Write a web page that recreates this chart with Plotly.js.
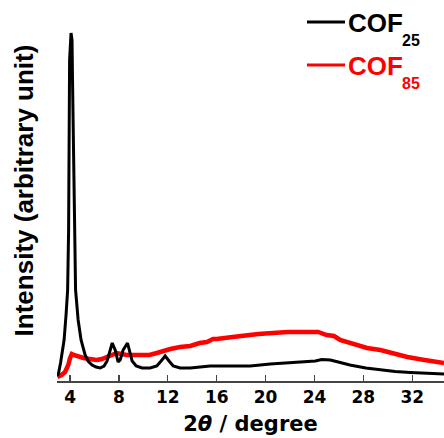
<!DOCTYPE html>
<html>
<head>
<meta charset="utf-8">
<script src="https://cdn.plot.ly/plotly-3.0.1.min.js"></script>
<style>html,body{margin:0;padding:0;background:#fff}#chart{width:444px;height:438px}</style>
</head>
<body>
<div id="chart"></div>
<script>
// 2theta (degree) and intensity (arbitrary unit)
var cof25X = [2.95,3.06,3.22,3.35,3.51,3.67,3.80,3.88,3.92,3.96,4.08,4.16,4.20,4.29,4.37,4.45,4.66,4.90,5.23,5.47,5.80,6.13,6.46,6.78,7.03,7.28,7.45,7.69,7.93,8.10,8.34,8.70,8.87,9.08,9.41,9.90,10.55,11.10,11.45,11.78,12.10,12.44,13.00,13.83,14.65,15.47,17.10,18.74,20.38,22.00,23.20,24.07,24.60,25.30,25.95,26.90,28.20,29.40,30.60,31.85,33.10,34.60];
var cof25Y = [5,8,18,29,41,66,91,151,241,321,348,341,301,231,151,91,61,41,26,20,16,14,13,15,20,31,38,31,19,21,31,38,31,20,15,13,13,15,20,25,20,15,13,13,14,15,15,15,17,18,19,20,21.5,21,19,16,13,11,9.5,8.5,7.5,7];
var cof85X = [2.96,3.30,3.59,3.85,4.00,4.14,4.30,4.55,4.80,5.09,5.60,6.19,6.60,7.00,7.40,7.82,8.20,8.64,9.20,10.00,10.50,11.10,11.60,12.20,13.00,13.83,14.60,15.20,15.70,16.00,17.30,18.50,19.40,20.60,21.80,23.40,24.30,25.00,25.60,26.10,26.60,27.50,28.30,29.40,30.50,31.60,33.00,34.60];
var cof85Y = [4,6,9,16,23,27,26,25,24,23,22,21,22,24,26,28,27,26,26,26,26,28,30,32,34,35,38,39,42,42,44,46,47,48,49,49,49,46,45,41,39,36,33,31,27,24,21,18];
var tickVals = [4,8,12,16,20,24,28,32];
var tickText = ['4','8','12','16','20','24','28','32'];
var names = ['COF', 'COF'];
var subs = ['25', '85'];
var colors = ['#000000', '#ff0000'];

var W = 444, H = 438, L = 57, B = 57;
var plotW = W - L, plotH = H - B;
function px(x){ return (x - L) / plotW; }
function py(y){ return (plotH - y) / plotH; }

var traces = [
  {x: cof85X, y: cof85Y, type: 'scatter', mode: 'lines', name: 'COF85',
   line: {color: colors[1], width: 4.5}, showlegend: false},
  {x: cof25X, y: cof25Y, type: 'scatter', mode: 'lines', name: 'COF25',
   line: {color: colors[0], width: 3}, showlegend: false}
];

var legY = [22, 65];
var shapes = [], annotations = [];
for (var i = 0; i < 2; i++) {
  shapes.push({type: 'line', xref: 'paper', yref: 'paper',
    x0: px(307), x1: px(345), y0: py(legY[i]), y1: py(legY[i]),
    line: {color: colors[i], width: 3}});
  annotations.push({xref: 'paper', yref: 'paper', x: px(346), y: py(legY[i] + 1),
    xanchor: 'left', yanchor: 'middle', showarrow: false,
    text: '<b>' + names[i] + '</b>',
    font: {family: 'Liberation Sans, Arial, sans-serif', size: 26, color: colors[i]}});
  annotations.push({xref: 'paper', yref: 'paper', x: px(400), y: py(legY[i] + 18),
    xanchor: 'left', yanchor: 'middle', showarrow: false,
    text: '<b>' + subs[i] + '</b>',
    font: {family: 'Liberation Sans, Arial, sans-serif', size: 16, color: colors[i]}});
}

var layout = {
  width: W, height: H,
  margin: {l: L, r: 0, t: 0, b: B},
  paper_bgcolor: '#ffffff', plot_bgcolor: '#ffffff',
  font: {family: 'Liberation Sans, Arial, sans-serif', color: '#000'},
  xaxis: {
    range: [2.93, 34.6], showgrid: false, zeroline: false,
    showline: true, linecolor: '#444', linewidth: 1.5,
    ticks: 'inside', ticklen: 6, tickwidth: 1.2, tickcolor: '#444',
    tickvals: tickVals, ticktext: tickText.map(function(t){return '<b>'+t+'</b>';}),
    tickfont: {family: 'DejaVu Sans, sans-serif', size: 17, color: '#000'},
    title: {text: '<b>2<i>θ</i> / degree</b>', font: {family: 'DejaVu Sans, sans-serif', size: 21, color: '#000'}, standoff: 10}
  },
  yaxis: {
    range: [0, plotH], showgrid: false, zeroline: false, showline: false,
    showticklabels: false, ticks: '',
    title: {text: '<b>Intensity (arbitrary unit)</b>', font: {size: 26, color: '#000'}, standoff: 14}
  },
  shapes: shapes,
  annotations: annotations
};
Plotly.newPlot('chart', traces, layout, {displayModeBar: false, staticPlot: true});
</script>
</body>
</html>
